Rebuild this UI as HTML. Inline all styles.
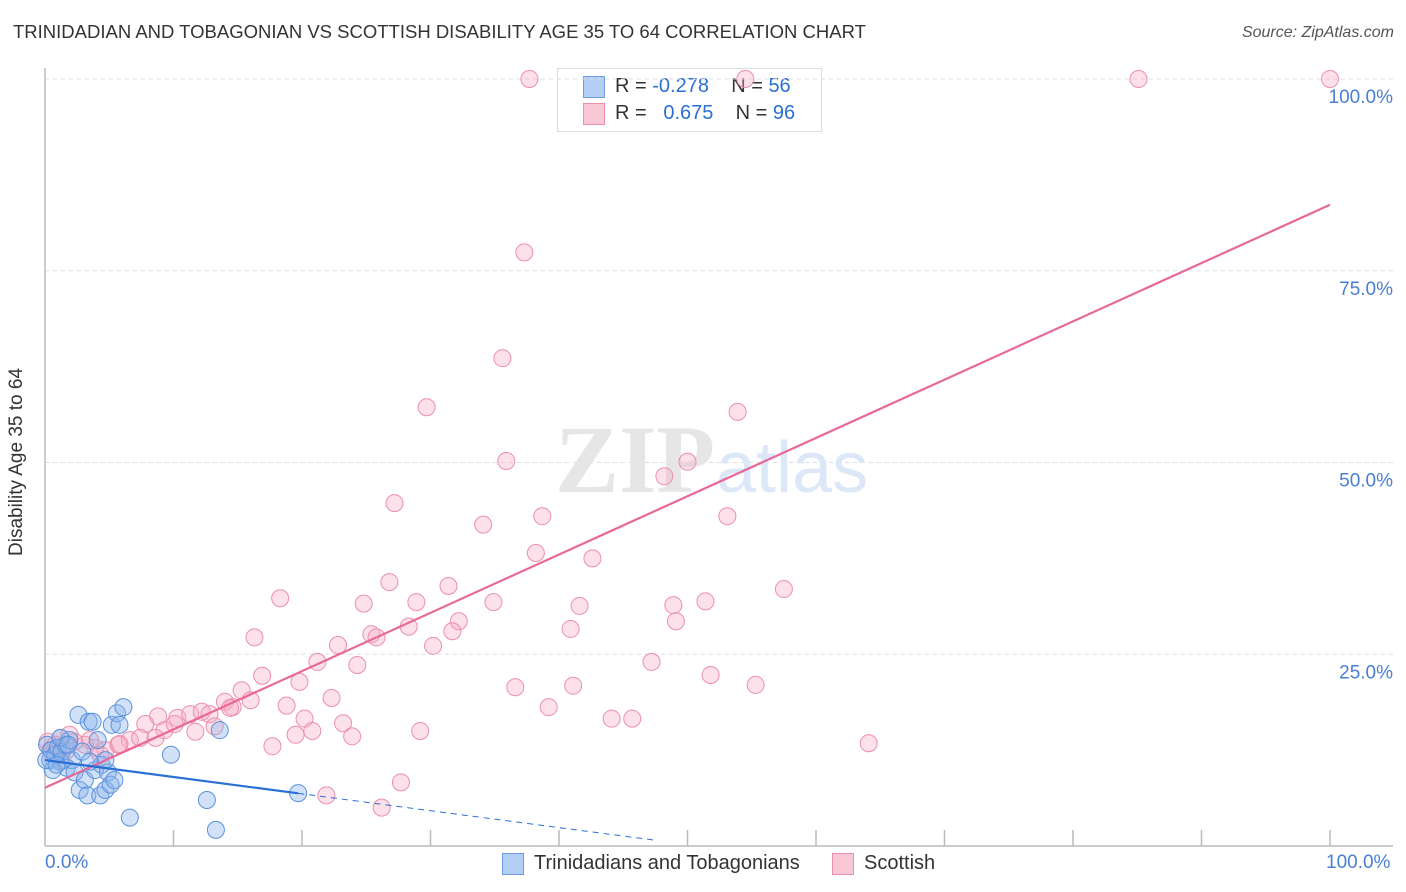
<!DOCTYPE html>
<html><head><meta charset="utf-8">
<style>
body{margin:0;background:#fff;font-family:"Liberation Sans",sans-serif;}
#wrap{position:relative;width:1406px;height:892px;overflow:hidden;}
.t{position:absolute;white-space:nowrap;}
</style></head>
<body>
<div id="wrap">
<div class="t" style="left:13px;top:21px;font-size:18.5px;color:#333">TRINIDADIAN AND TOBAGONIAN VS SCOTTISH DISABILITY AGE 35 TO 64 CORRELATION CHART</div>
<div class="t" style="right:12px;top:24px;font-size:16px;color:#555;font-style:italic">Source: ZipAtlas.com</div>
<div style="position:absolute;left:557px;top:68px;width:263px;height:62px;border:1px solid #ddd;background:#fff;font-size:20px;color:#333">
 <div style="position:absolute;left:25px;top:7px;width:20px;height:20px;background:#b4cff5;border:1px solid #6d9de0"></div>
 <div class="t" style="left:57px;top:6px">R = <span style="color:#2a6fd6">-0.278</span>&nbsp;&nbsp;&nbsp;&nbsp;N = <span style="color:#2a6fd6">56</span></div>
 <div style="position:absolute;left:25px;top:34px;width:20px;height:20px;background:#f9c8d7;border:1px solid #ec8fab"></div>
 <div class="t" style="left:57px;top:33px">R = &nbsp;&nbsp;<span style="color:#2a6fd6">0.675</span>&nbsp;&nbsp;&nbsp;&nbsp;N = <span style="color:#2a6fd6">96</span></div>
</div>
<svg id="svg" width="1406" height="892" style="position:absolute;left:0;top:0"></svg>
</div>
<script>
const blueX=[0.16,0.4,0.5,0.8,1.0,1.2,1.3,1.6,1.7,1.9,2.1,2.3,2.6,2.7,2.9,3.1,3.3,3.4,3.7,3.9,4.1,4.3,4.4,4.7,4.9,5.1,5.2,5.4,5.6,5.8,6.1,6.6,9.8,12.6,13.3,13.6,19.7,4.7,3.5,1.2,0.6,1.8,0.1,0.9];
const blueY=[13.2,11.2,12.5,11.9,12.8,11.0,12.3,13.2,10.2,13.8,11.2,9.6,17.1,7.3,12.3,8.6,6.6,16.2,16.2,9.9,13.8,6.6,10.6,7.3,9.6,8.0,15.8,8.6,17.3,15.8,18.1,3.7,11.9,6.0,2.1,15.1,6.9,11.2,11.0,14.1,9.9,13.2,11.2,10.6];
const pinkX=[37.7,54.5,85.1,100,37.3,35.6,29.7,53.9,35.9,48.2,50.0,27.2,34.1,38.7,53.1,38.2,42.6,18.3,26.8,31.4,24.8,28.9,34.9,41.6,48.9,51.4,57.5,16.3,25.4,32.2,28.3,31.7,40.9,49.1,22.8,25.8,30.2,21.2,24.3,47.2,16.9,19.8,36.6,41.1,51.8,55.3,15.3,22.3,18.8,39.2,44.1,45.7,29.2,20.2,23.2,23.9,17.7,19.5,20.8,64.1,27.7,21.9,26.2,8.8,10.3,11.3,12.2,12.8,14.0,14.6,16.0,9.3,7.8,6.6,5.7,4.7,3.9,3.1,2.3,1.2,0.8,0.4,1.6,5.8,7.4,8.6,10.1,11.7,13.2,14.4,4.3,3.5,1.9,1.3,0.2];
const pinkY=[100,100,100,100,77.4,63.6,57.2,56.6,50.2,48.2,50.1,44.7,41.9,43.0,43.0,38.2,37.5,32.3,34.4,33.9,31.6,31.8,31.8,31.3,31.4,31.9,33.5,27.2,27.6,29.3,28.6,28.0,28.3,29.3,26.2,27.2,26.1,24.0,23.6,24.0,22.2,21.4,20.7,20.9,22.3,21.0,20.3,19.3,18.3,18.1,16.6,16.6,15.0,16.6,16.0,14.3,13.0,14.5,15.0,13.4,8.3,6.6,5.0,16.9,16.7,17.2,17.5,17.2,18.8,18.1,19.0,15.1,15.9,13.8,13.2,12.5,12.8,13.2,13.6,14.1,13.2,12.5,12.3,13.3,14.1,14.1,15.9,14.9,15.6,18.0,11.9,13.8,14.5,11.2,13.6];
const blueTrend=[11.2,-0.22];
const pinkTrend=[7.6,0.76];
const yTicks=[25,50,75,100];
const yTickLabels=["25.0%","50.0%","75.0%","100.0%"];

const sx=v=>45+v*12.85, sy=v=>846-v*7.67;
const svg=document.getElementById('svg');
const NS='http://www.w3.org/2000/svg';
function mk(tag,attrs){const e=document.createElementNS(NS,tag);for(const k in attrs)e.setAttribute(k,attrs[k]);svg.appendChild(e);return e;}
yTicks.forEach((t,i)=>{
 const g=mk('line',{x1:45,x2:1393,y1:sy(t),y2:sy(t),stroke:'#ddd','stroke-dasharray':'4,4'});
 
 
 const tx=mk('text',{x:1393,y:sy(t)+24,'text-anchor':'end','font-size':19,fill:'#4a7fd4','font-family':'Liberation Sans, sans-serif'});
 tx.textContent=yTickLabels[i];
 
 
});
const ax=mk('line',{x1:45,x2:45,y1:68,y2:846,stroke:'#bbb','stroke-width':1.5});


const bx=mk('line',{x1:45,x2:1393,y1:846,y2:846,stroke:'#bbb','stroke-width':1.5});


for(let i=1;i<=10;i++){const tk=mk('line',{x1:sx(i*10),x2:sx(i*10),y1:830,y2:846,stroke:'#bbb','stroke-width':1.5});
 
 }
const wm=mk('text',{x:555,y:492,'font-size':96,fill:'#e6e6e6','font-family':'Liberation Serif, serif','font-weight':'bold'});wm.textContent='ZIP';


const wm2=mk('text',{x:716,y:492,'font-size':72,fill:'#dce8f7','font-family':'Liberation Sans, sans-serif'});wm2.textContent='atlas';


pinkX.forEach((x,i)=>{const c=mk('circle',{cx:sx(x),cy:sy(pinkY[i]),r:8.5,fill:'rgba(247,170,195,0.35)',stroke:'#ec8fab','stroke-width':1});
 
 });
blueX.forEach((x,i)=>{const c=mk('circle',{cx:sx(x),cy:sy(blueY[i]),r:8.5,fill:'rgba(140,180,235,0.4)',stroke:'#5b92de','stroke-width':1});
 
 });
const p1=mk('line',{x1:sx(0),y1:sy(pinkTrend[0]),x2:sx(100),y2:sy(pinkTrend[0]+pinkTrend[1]*100),stroke:'#e8689a','stroke-width':2.2});


const b1=mk('line',{x1:sx(0),y1:sy(blueTrend[0]),x2:sx(19.7),y2:sy(blueTrend[0]+blueTrend[1]*19.7),stroke:'#2a6fd6','stroke-width':2.2});


const b2=mk('line',{x1:sx(19.7),y1:sy(blueTrend[0]+blueTrend[1]*19.7),x2:sx(47.5),y2:sy(blueTrend[0]+blueTrend[1]*47.5),stroke:'#2a6fd6','stroke-width':1,'stroke-dasharray':'6,5'});


</script>
<div class="t" style="left:6px;top:556px;transform:rotate(-90deg);transform-origin:0 0;font-size:19px;color:#333">Disability Age 35 to 64</div>
<div class="t" style="left:45px;top:852px;font-size:19px;color:#4a7fd4">0.0%</div>
<div class="t" style="left:1326px;top:852px;font-size:19px;color:#4a7fd4">100.0%</div>
<div style="position:absolute;left:502px;top:853px;width:20px;height:20px;background:#b4cff5;border:1px solid #6d9de0"></div>
<div class="t" style="left:534px;top:852px;font-size:20px;color:#333">Trinidadians and Tobagonians</div>
<div style="position:absolute;left:832px;top:853px;width:20px;height:20px;background:#f9c8d7;border:1px solid #ec8fab"></div>
<div class="t" style="left:864px;top:852px;font-size:20px;color:#333">Scottish</div>
</body></html>
